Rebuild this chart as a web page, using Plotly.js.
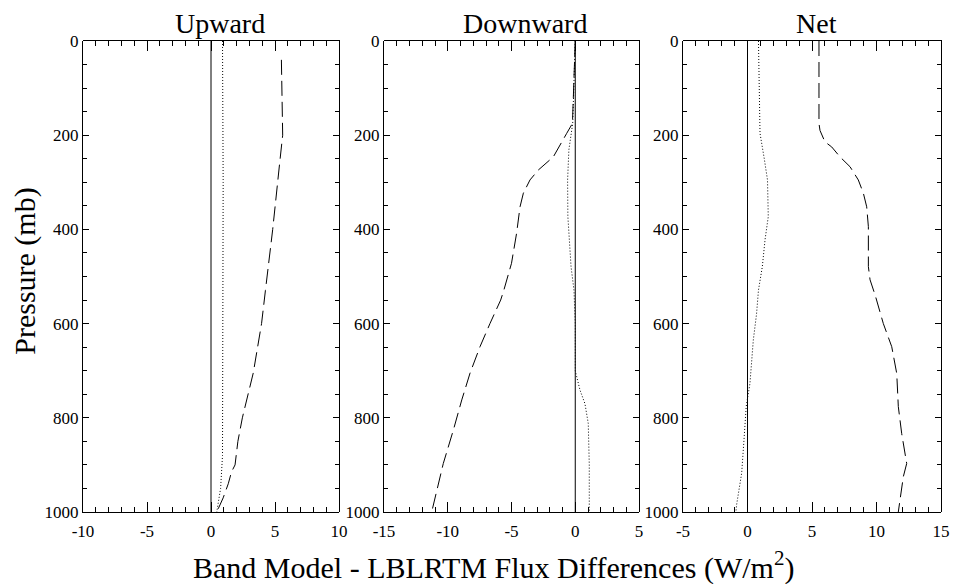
<!DOCTYPE html>
<html>
<head>
<meta charset="utf-8">
<script src="https://cdn.plot.ly/plotly-3.0.1.min.js"></script>
<style>html,body{margin:0;padding:0;background:#fff;}#chart{width:953px;height:584px;}</style>
</head>
<body>
<div id="chart"></div>
<script>
// Reference (zero) line
const zeroX = [0, 0];
const zeroP = [0, 1000];

// Upward panel
const upDotP  = [0, 200, 300, 880, 950, 1000];
const upDotV  = [0.9, 0.95, 0.95, 0.9, 0.75, 0.45];
const upDashP = [40, 100, 200, 250, 330, 400, 530, 600, 705, 760, 800, 850, 900, 915, 940, 970, 1000];
const upDashV = [5.5, 5.55, 5.6, 5.4, 5.1, 4.82, 4.25, 3.95, 3.3, 2.8, 2.45, 2.1, 1.88, 1.6, 1.35, 0.95, 0.45];

// Downward panel
const downDotP  = [0, 175, 231, 295, 372, 479, 529, 600, 700, 741, 770, 812, 900, 1000];
const downDotV  = [0, -0.2, -0.5, -0.6, -0.58, -0.33, -0.1, 0, 0, 0.37, 0.76, 1.02, 1.1, 1.1];
const downDashP = [0, 175, 196, 246, 274, 295, 323, 352, 408, 472, 529, 550, 600, 649, 705, 762, 826, 897, 1000];
const downDashV = [0, -0.22, -0.67, -1.72, -2.9, -3.55, -4.07, -4.33, -4.6, -5.0, -5.6, -5.85, -6.69, -7.47, -8.25, -8.9, -9.56, -10.35, -11.26];

// Net panel
const netDotP  = [0, 130, 196, 250, 295, 373, 422, 479, 529, 580, 635, 727, 776, 846, 917, 984, 1000];
const netDotV  = [0.85, 0.9, 0.97, 1.3, 1.55, 1.61, 1.36, 1.15, 0.85, 0.7, 0.45, 0.19, -0.1, -0.27, -0.45, -0.84, -0.9];
const netDashP = [0, 175, 190, 214, 225, 246, 267, 295, 323, 352, 394, 479, 507, 540, 600, 649, 706, 776, 833, 897, 925, 1000];
const netDashV = [5.54, 5.54, 5.62, 6.0, 6.53, 7.17, 7.95, 8.59, 8.98, 9.24, 9.37, 9.37, 9.5, 9.9, 10.53, 11.18, 11.57, 11.69, 11.95, 12.34, 12.08, 11.69];

// Panel titles, axis ranges and tick labels
const panelTitles = ["Upward", "Downward", "Net"];
const xRanges = [[-10, 10], [-15, 5], [-5, 15]];
const xTickVals = [[-10, -5, 0, 5, 10], [-15, -10, -5, 0, 5], [-5, 0, 5, 10, 15]];
const xTickText = [["-10", "-5", "0", "5", "10"], ["-15", "-10", "-5", "0", "5"], ["-5", "0", "5", "10", "15"]];
const yTickVals = [0, 200, 400, 600, 800, 1000];
const yTickText = ["0", "200", "400", "600", "800", "1000"];

const FONT = "'Liberation Serif', 'Times New Roman', Times, serif";
const solid = {color: "#000", width: 1};
const dotted = {color: "#000", width: 1, dash: "1px,2px"};
const dashed = {color: "#000", width: 1, dash: "15px,6px"};

const panels = [
  [upDotP, upDotV, upDashP, upDashV],
  [downDotP, downDotV, downDashP, downDashV],
  [netDotP, netDotV, netDashP, netDashV]
];

function stepVals(lo, hi, step) { const v = []; for (let t = lo; t <= hi + 1e-9; t += step) v.push(t); return v; }

const traces = [];
panels.forEach((pn, i) => {
  const xa = i === 0 ? "x" : "x" + (i + 1);
  const ya = i === 0 ? "y" : "y" + (i + 1);
  traces.push({x: zeroX, y: zeroP, xaxis: xa, yaxis: ya, mode: "lines", line: solid, hoverinfo: "skip"});
  traces.push({x: pn[1], y: pn[0], xaxis: xa, yaxis: ya, mode: "lines", line: dotted});
  traces.push({x: pn[3], y: pn[2], xaxis: xa, yaxis: ya, mode: "lines", line: dashed});
  // invisible companions so the top/right frame subplots are drawn
  traces.push({x: zeroX, y: zeroP, xaxis: "x" + (i + 4), yaxis: "y" + (i + 4), mode: "lines", line: solid, opacity: 0, hoverinfo: "skip"});
  traces.push({x: zeroX, y: zeroP, xaxis: "x" + (i + 7), yaxis: "y" + (i + 7), mode: "lines", line: solid, opacity: 0, hoverinfo: "skip"});
});

const W = 953, H = 584;
const mL = 83, mR = 12, mT = 41, mB = 72;
const pw = W - mL - mR;
const px = [[83, 339], [384, 639], [683, 941]];
const domains = px.map(d => [(d[0] - mL) / pw, (d[1] - mL) / pw]);

const layout = {
  width: W, height: H,
  margin: {l: mL, r: mR, t: mT, b: mB, pad: 0},
  paper_bgcolor: "#fff", plot_bgcolor: "rgba(0,0,0,0)",
  showlegend: false,
  font: {family: FONT, color: "#000", size: 17},
  annotations: []
};

const baseAx = {
  tickwidth: 1, tickcolor: "#000", showline: true, linecolor: "#000", linewidth: 1,
  showgrid: false, zeroline: false, tickfont: {family: FONT, size: 17, color: "#000"}
};

for (let i = 0; i < 3; i++) {
  const sfx = i === 0 ? "" : String(i + 1);
  const a = String(i + 4), b = String(i + 7);
  layout["xaxis" + sfx] = Object.assign({}, baseAx, {
    domain: domains[i], anchor: "y" + sfx, range: xRanges[i],
    tickmode: "array", tickvals: xTickVals[i], ticktext: xTickText[i],
    ticks: "inside", ticklen: 10, ticklabelstandoff: 4,
    minor: {dtick: 1, ticks: "inside", ticklen: 5, tickwidth: 1, tickcolor: "#000", showgrid: false}
  });
  layout["yaxis" + sfx] = Object.assign({}, baseAx, {
    domain: [0, 1], anchor: "x" + sfx, range: [1000, 0],
    tickmode: "array", tickvals: yTickVals, ticktext: yTickText,
    ticks: "inside", ticklen: 6,
    minor: {dtick: 50, ticks: "inside", ticklen: 4, tickwidth: 1, tickcolor: "#000", showgrid: false}
  });
  // frame subplot: top/right major ticks
  layout["xaxis" + a] = Object.assign({}, baseAx, {
    domain: domains[i], anchor: "y" + a, range: xRanges[i], side: "top",
    tickmode: "array", tickvals: xTickVals[i], ticks: "inside", ticklen: 10, showticklabels: false
  });
  layout["yaxis" + a] = Object.assign({}, baseAx, {
    domain: [0, 1], anchor: "x" + a, range: [1000, 0], side: "right",
    tickmode: "array", tickvals: yTickVals, ticks: "inside", ticklen: 6, showticklabels: false
  });
  // frame subplot: top/right minor ticks
  layout["xaxis" + b] = Object.assign({}, baseAx, {
    domain: domains[i], anchor: "y" + b, range: xRanges[i], side: "top",
    tickmode: "array", tickvals: stepVals(xRanges[i][0], xRanges[i][1], 1), ticks: "inside", ticklen: 5, showticklabels: false
  });
  layout["yaxis" + b] = Object.assign({}, baseAx, {
    domain: [0, 1], anchor: "x" + b, range: [1000, 0], side: "right",
    tickmode: "array", tickvals: stepVals(0, 1000, 50), ticks: "inside", ticklen: 4, showticklabels: false
  });
}

const titleCenters = [220, 525, 816];
panelTitles.forEach((t, i) => {
  layout.annotations.push({
    text: t, xref: "paper", yref: "paper",
    x: (titleCenters[i] - mL) / pw, y: 1, xanchor: "center", yanchor: "bottom", yshift: 0,
    showarrow: false, font: {family: FONT, size: 28, color: "#000"}
  });
});

layout.annotations.push({
  text: "Pressure (mb)", xref: "paper", yref: "paper", x: 0, y: 0.51,
  xanchor: "center", yanchor: "middle", xshift: -58, textangle: -90,
  showarrow: false, font: {family: FONT, size: 30, color: "#000"}
});
layout.annotations.push({
  text: "Band Model - LBLRTM Flux Differences (W/m<sup>2</sup>)", xref: "paper", yref: "paper",
  x: (493 - mL) / pw, y: 0, xanchor: "center", yanchor: "middle", yshift: -53,
  showarrow: false, font: {family: FONT, size: 30, color: "#000"}
});

Plotly.newPlot("chart", traces, layout, {staticPlot: true, displayModeBar: false});
</script>
</body>
</html>
